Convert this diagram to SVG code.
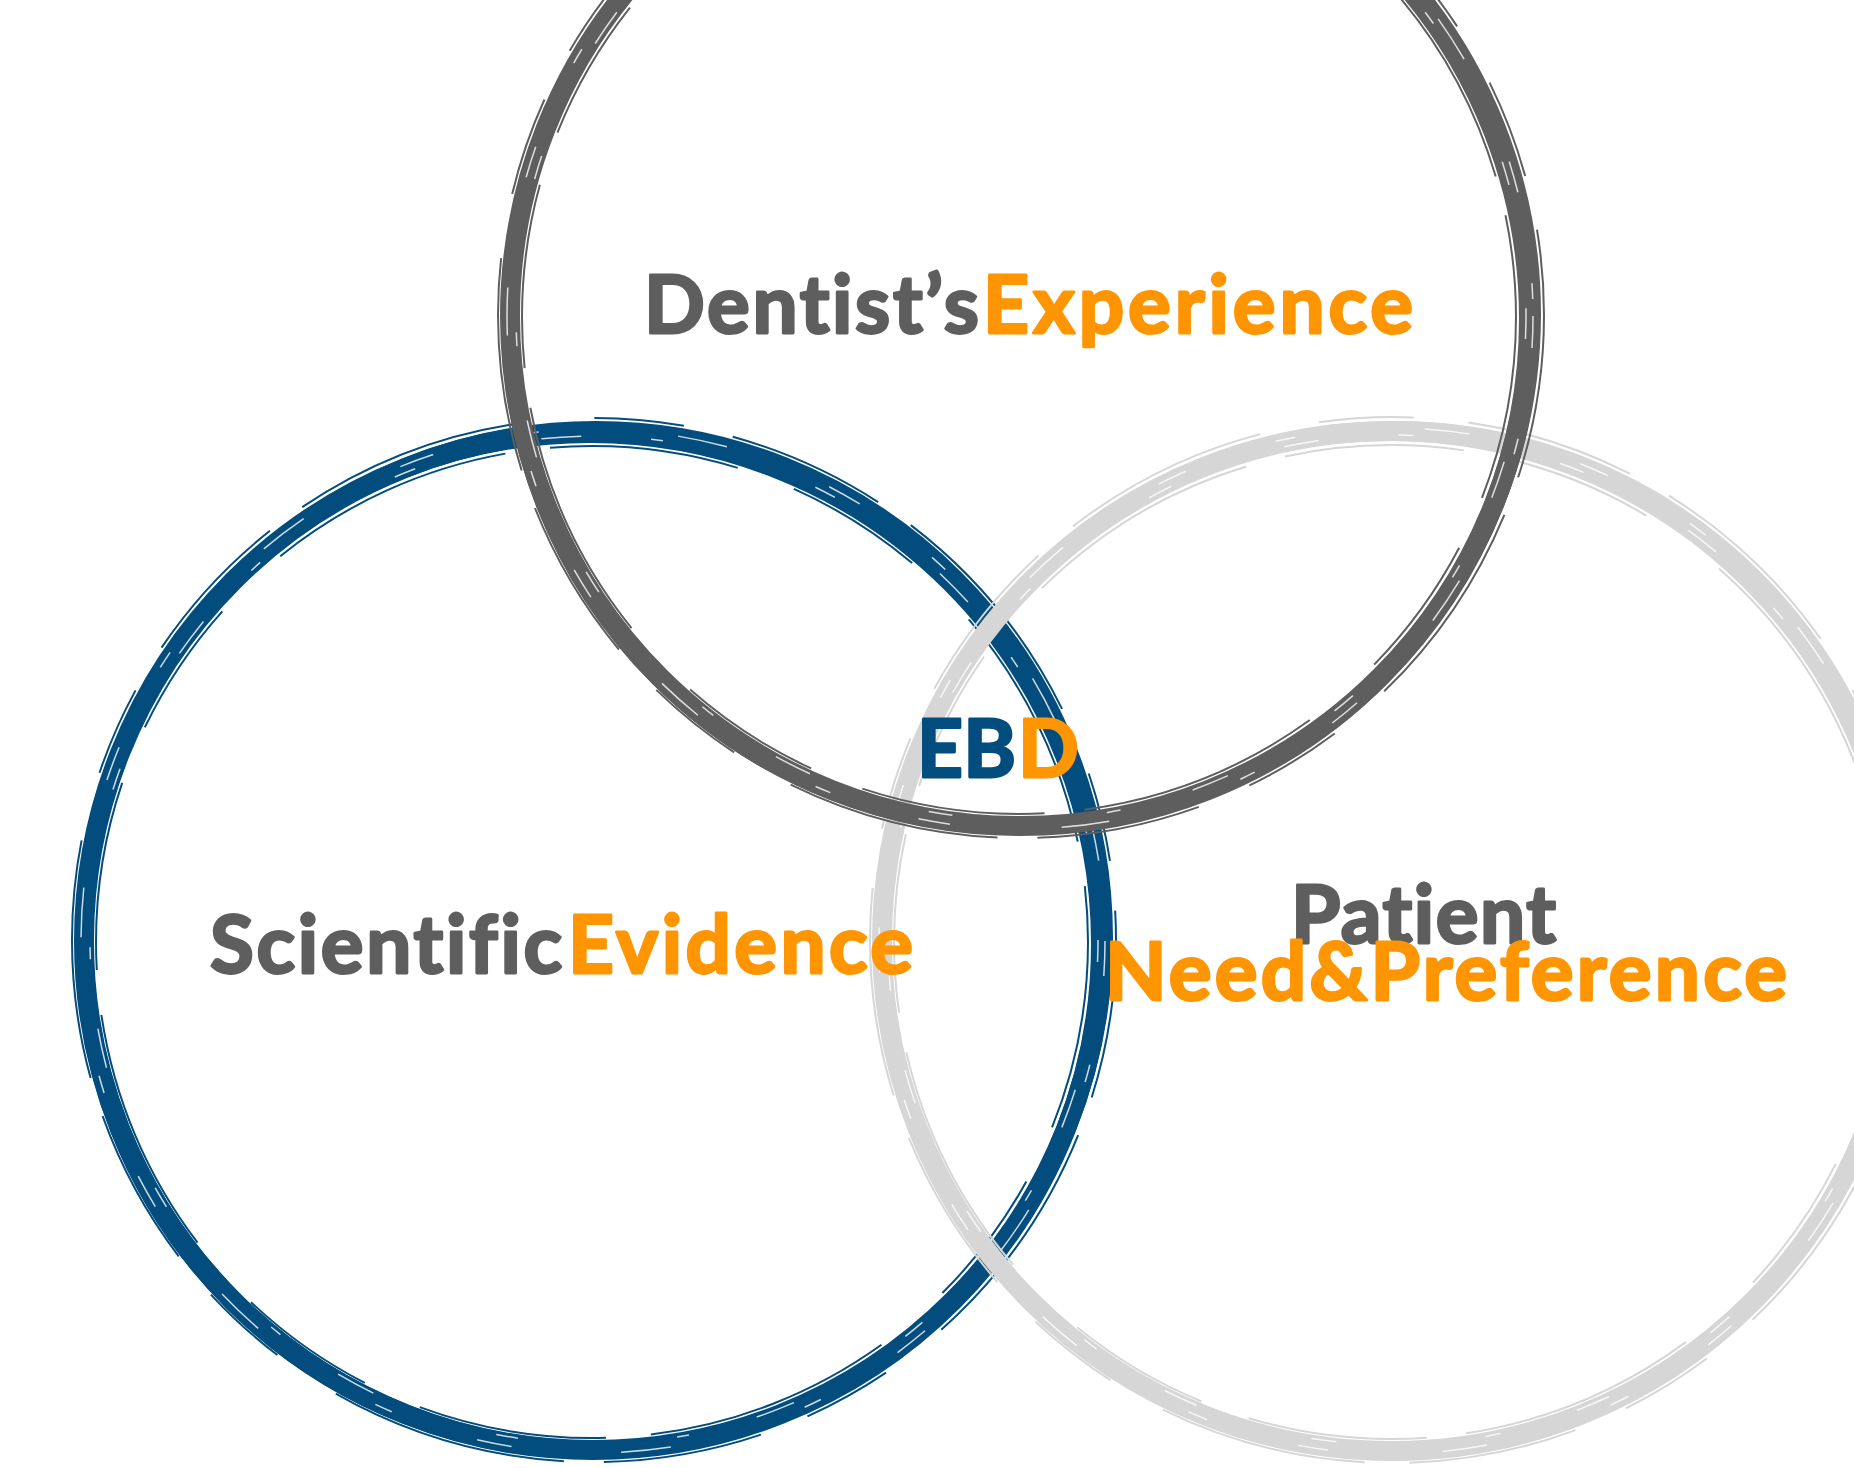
<svg xmlns="http://www.w3.org/2000/svg" width="1854" height="1468" viewBox="0 0 1854 1468">
<style>
.ring{fill:none;stroke-width:20}
.wob{fill:none;stroke-width:14}
.edge{fill:none;stroke-width:2}
.streak{fill:none;stroke:#ffffff;stroke-width:1.5;opacity:0.8}
.dk{stroke:#5e5e5e}
.bl{stroke:#024d7e}
.lg{stroke:#d6d6d6}
.lbl{font-family:Lato,"Liberation Sans",sans-serif;font-weight:700;font-size:80px;font-variant-ligatures:none;stroke-width:2.8;stroke-linejoin:round}
.g{fill:#5e5e5e;stroke:#5e5e5e}
.o{fill:#ff9500;stroke:#ff9500}
.b{fill:#024d7e;stroke:#024d7e}
</style>
<rect width="1854" height="1468" fill="#ffffff"/>
<g id="circle-scientific-evidence">
<circle class="ring bl" cx="593" cy="941" r="509"/>
<circle class="wob bl" cx="596" cy="938" r="510"/>
<circle class="wob bl" cx="590" cy="944" r="508"/>
<circle class="edge bl" cx="594" cy="940" r="522" stroke-dasharray="160 40 240 70 90 50"/>
<circle class="edge bl" cx="592" cy="942" r="496" stroke-dasharray="190 60 140 80 250 45"/>
<circle class="streak" cx="593" cy="941" r="512" stroke-dasharray="35 90 18 140 50 110"/>
<circle class="streak" cx="594" cy="940" r="504" stroke-dasharray="22 130 40 70 12 160"/>
</g>
<g id="circle-patient">
<circle class="ring lg" cx="1392" cy="941" r="510"/>
<circle class="wob lg" cx="1395" cy="939" r="511"/>
<circle class="wob lg" cx="1389" cy="943" r="509"/>
<circle class="edge lg" cx="1393" cy="940" r="523" stroke-dasharray="170 45 210 60 95 55"/>
<circle class="edge lg" cx="1391" cy="942" r="497" stroke-dasharray="180 50 145 90 240 40"/>
<circle class="streak" cx="1392" cy="941" r="513" stroke-dasharray="30 95 20 130 45 115"/>
<circle class="streak" cx="1393" cy="940" r="505" stroke-dasharray="25 120 35 80 15 150"/>
</g>
<g id="circle-dentist-experience">
<circle class="ring dk" cx="1020" cy="316" r="510"/>
<circle class="wob dk" cx="1023" cy="314" r="511"/>
<circle class="wob dk" cx="1017" cy="319" r="509"/>
<circle class="edge dk" cx="1021" cy="315" r="523" stroke-dasharray="165 40 215 65 100 55"/>
<circle class="edge dk" cx="1019" cy="317" r="497" stroke-dasharray="185 55 145 85 245 40"/>
<circle class="streak" cx="1020" cy="316" r="513" stroke-dasharray="32 92 16 138 48 112"/>
<circle class="streak" cx="1021" cy="315" r="505" stroke-dasharray="24 125 38 75 14 155"/>
</g>
<g id="label-dentist">
<text class="lbl" y="333"><tspan class="g" x="644" textLength="335">Dentist’s</tspan><tspan class="o" x="983" textLength="430">Experience</tspan></text>
</g>
<g id="label-scientific">
<text class="lbl" y="973"><tspan class="g" x="210" textLength="352">Scientific</tspan><tspan class="o" x="568" textLength="345">Evidence</tspan></text>
</g>
<g id="label-patient">
<text class="lbl g" x="1291" y="943" textLength="265">Patient</text>
<text class="lbl o" x="1105" y="1000" textLength="682">Need&amp;Preference</text>
</g>
<g id="label-ebd">
<text class="lbl" y="777"><tspan class="b" x="917" textLength="99">EB</tspan><tspan class="o" x="1018" textLength="54">D</tspan></text>
</g>
<g id="connectors"></g>
</svg>
